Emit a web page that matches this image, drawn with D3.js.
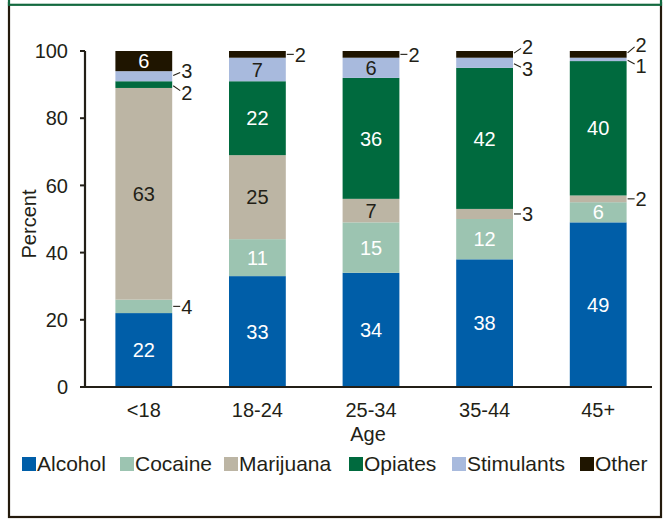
<!DOCTYPE html>
<html>
<head>
<meta charset="utf-8">
<script src="https://cdn.jsdelivr.net/npm/d3@7"></script>
<style>
  html, body { margin: 0; padding: 0; background: #fff; }
  svg { display: block; font-family: "Liberation Sans", Arial, sans-serif; }
</style>
</head>
<body>
<svg id="chart" width="665" height="519"></svg>
<script>
// Age groups and drug categories
const ages = ["<18", "18-24", "25-34", "35-44", "45+"];
const drugs = ["Alcohol", "Cocaine", "Marijuana", "Opiates", "Stimulants", "Other"];

// Percent of admissions by primary substance, one array per substance (indexed by age group)
const alcohol    = [22, 33, 34, 38, 49];
const cocaine    = [4, 11, 15, 12, 6];
const marijuana  = [63, 25, 7, 3, 2];
const opiates    = [2, 22, 36, 42, 40];
const stimulants = [3, 7, 6, 3, 1];
const other      = [6, 2, 2, 2, 2];

const yTicks = [0, 20, 40, 60, 80, 100];

const seriesValues = [alcohol, cocaine, marijuana, opiates, stimulants, other];

const colors = {
  Alcohol: "#005ea8",
  Cocaine: "#9cc4b1",
  Marijuana: "#bcb5a4",
  Opiates: "#006a3e",
  Stimulants: "#a8badd",
  Other: "#1f1500"
};
const labelColor = {
  Alcohol: "#ffffff", Cocaine: "#ffffff", Marijuana: "#231f17",
  Opiates: "#ffffff", Stimulants: "#231f17", Other: "#ffffff"
};
const ink = "#231f17";

// Small segments get their label outside the bar; vertical nudge (px) for stacked callouts
const calloutNudge = {
  "<18|Opiates": 8, "<18|Stimulants": -5,
  "35-44|Other": -8, "35-44|Stimulants": 6,
  "45+|Other": -10, "45+|Stimulants": 6
};

const rows = ages.map((a, i) => {
  const r = { age: a };
  drugs.forEach((d, j) => { r[d] = seriesValues[j][i]; });
  return r;
});

const svg = d3.select("#chart");

// Frame
svg.append("rect")
  .attr("x", 9).attr("y", 3).attr("width", 652).attr("height", 514)
  .attr("fill", "none").attr("stroke", "#241a0c").attr("stroke-width", 2.2);
svg.append("rect")
  .attr("x", 9).attr("y", -10).attr("width", 652).attr("height", 14.8)
  .attr("fill", "#fff").attr("stroke", "#12693f").attr("stroke-width", 2.2);

const x = d3.scaleBand().domain(ages).range([87, 655]).paddingInner(0.5).paddingOuter(0.25);
const y = d3.scaleLinear().domain([0, 100]).range([387, 51]);

const stack = d3.stack().keys(drugs);
const series = stack(rows);

const g = svg.append("g");

series.forEach(s => {
  const key = s.key;
  g.append("g").selectAll("rect")
    .data(s)
    .join("rect")
    .attr("x", d => x(d.data.age))
    .attr("y", d => y(d[1]))
    .attr("width", x.bandwidth())
    .attr("height", d => y(d[0]) - y(d[1]))
    .attr("fill", colors[key]);
});

// Segment labels
series.forEach(s => {
  const key = s.key;
  s.forEach(d => {
    const v = d.data[key];
    const cx = x(d.data.age) + x.bandwidth() / 2;
    const cy = (y(d[0]) + y(d[1])) / 2;
    if (v >= 5) {
      g.append("text")
        .attr("x", cx).attr("y", cy)
        .attr("dy", "0.36em")
        .attr("text-anchor", "middle")
        .attr("font-size", 20)
        .attr("fill", labelColor[key])
        .text(v);
    } else {
      const nudge = calloutNudge[d.data.age + "|" + key] || 0;
      const x0 = x(d.data.age) + x.bandwidth();
      g.append("line")
        .attr("x1", x0 + 1).attr("y1", cy + (nudge ? nudge * 0.15 : 0))
        .attr("x2", x0 + 8).attr("y2", cy + nudge * 0.75)
        .attr("stroke", ink).attr("stroke-width", 1.1);
      g.append("text")
        .attr("x", x0 + 9).attr("y", cy + nudge)
        .attr("dy", "0.36em")
        .attr("font-size", 20)
        .attr("fill", ink)
        .text(v);
    }
  });
});

// Axes
const axisG = svg.append("g");
axisG.append("line")
  .attr("x1", 85).attr("x2", 85).attr("y1", y(100)).attr("y2", y(0) + 1)
  .attr("stroke", ink).attr("stroke-width", 2.2);
axisG.append("line")
  .attr("x1", 80).attr("x2", 652).attr("y1", y(0)).attr("y2", y(0))
  .attr("stroke", ink).attr("stroke-width", 2.2);
yTicks.forEach(t => {
  axisG.append("line")
    .attr("x1", 80).attr("x2", 85).attr("y1", y(t)).attr("y2", y(t))
    .attr("stroke", ink).attr("stroke-width", 2);
  axisG.append("text")
    .attr("x", 68).attr("y", y(t)).attr("dy", "0.36em")
    .attr("text-anchor", "end").attr("font-size", 20).attr("fill", ink)
    .text(t);
});
ages.forEach(a => {
  axisG.append("text")
    .attr("x", x(a) + x.bandwidth() / 2).attr("y", 417)
    .attr("text-anchor", "middle").attr("font-size", 20).attr("fill", ink)
    .text(a);
});

// Axis titles
svg.append("text")
  .attr("x", 368).attr("y", 441)
  .attr("text-anchor", "middle").attr("font-size", 20).attr("fill", ink)
  .text("Age");
svg.append("text")
  .attr("transform", "translate(36,224) rotate(-90)")
  .attr("text-anchor", "middle").attr("font-size", 20).attr("fill", ink)
  .text("Percent");

// Legend
const legendX = [22, 120, 224, 349, 452, 580];
const legend = svg.append("g");
drugs.forEach((d, i) => {
  legend.append("rect")
    .attr("x", legendX[i]).attr("y", 457).attr("width", 14).attr("height", 14)
    .attr("fill", colors[d]);
  legend.append("text")
    .attr("x", legendX[i] + 15).attr("y", 471)
    .attr("font-size", 21).attr("fill", ink)
    .text(d);
});
</script>
</body>
</html>
